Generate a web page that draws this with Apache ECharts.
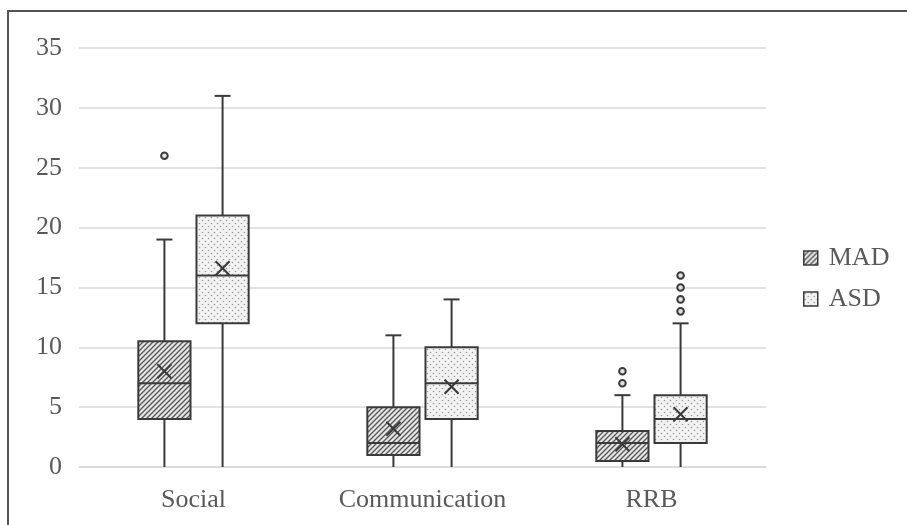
<!DOCTYPE html>
<html>
<head>
<meta charset="utf-8">
<script src="https://cdn.jsdelivr.net/npm/echarts@6/dist/echarts.min.js"></script>
<style>
  html, body { margin: 0; padding: 0; background: #fff; }
  #chart { width: 907px; height: 525px; }
</style>
</head>
<body>
<div id="chart"></div>
<script>
var categories = ['Social', 'Communication', 'RRB'];

// [min, q1, median, q3, max]
var madBox = [[0, 4, 7, 10.5, 19], [0, 1, 2, 5, 11], [0, 0.5, 2, 3, 6]];
var madMean = [8, 3.2, 1.9];
var madOutliers = [[0, 26], [2, 7], [2, 8]];

var asdBox = [[0, 12, 16, 21, 31], [0, 4, 7, 10, 14], [0, 2, 4, 6, 12]];
var asdMean = [16.6, 6.7, 4.4];
var asdOutliers = [[2, 13], [2, 14], [2, 15], [2, 16]];

var yTicks = [0, 35, 5];

var ink = '#3a3a3a';
var serif = 'Liberation Serif';

// fill patterns
function hatchPattern() {
    var c = document.createElement('canvas');
    c.width = 5; c.height = 5;
    var g = c.getContext('2d');
    g.fillStyle = '#e6e6e6';
    g.fillRect(0, 0, 5, 5);
    g.strokeStyle = '#5a5a5a';
    g.lineWidth = 1.4;
    g.beginPath();
    g.moveTo(-1, 6); g.lineTo(6, -1);
    g.moveTo(-1, 1); g.lineTo(1, -1);
    g.moveTo(4, 6); g.lineTo(6, 4);
    g.stroke();
    return {image: c, repeat: 'repeat'};
}

function dotPattern() {
    var c = document.createElement('canvas');
    c.width = 6; c.height = 6;
    var g = c.getContext('2d');
    g.fillStyle = '#f2f2f2';
    g.fillRect(0, 0, 6, 6);
    g.fillStyle = '#9a9a9a';
    g.beginPath();
    g.arc(1.5, 1.5, 0.8, 0, Math.PI * 2);
    g.arc(4.5, 4.5, 0.8, 0, Math.PI * 2);
    g.fill();
    return {image: c, repeat: 'repeat'};
}

var madFill = hatchPattern();
var asdFill = dotPattern();

function boxData(box, mean) {
    return box.map(function (b, i) {
        return [i].concat(b).concat([mean[i]]);
    });
}

function boxRenderer(shift, fill) {
    return function (params, api) {
        var i = api.value(0);
        var band = api.size([1, 0])[0];
        var cx = api.coord([i, 0])[0] + band * shift;
        var half = band * 0.114;
        var y = function (k) { return api.coord([i, api.value(k)])[1]; };
        var yMin = y(1), yQ1 = y(2), yMed = y(3), yQ3 = y(4), yMax = y(5), yMean = y(6);
        var line = {stroke: ink, lineWidth: 2};
        var m = 7;
        return {
            type: 'group',
            children: [
                {type: 'line', shape: {x1: cx, y1: yMin, x2: cx, y2: yQ1}, style: line},
                {type: 'line', shape: {x1: cx, y1: yQ3, x2: cx, y2: yMax}, style: line},
                {type: 'line', shape: {x1: cx - 8, y1: yMax, x2: cx + 8, y2: yMax}, style: line},
                {type: 'rect', shape: {x: cx - half, y: yQ3, width: half * 2, height: yQ1 - yQ3},
                    style: {fill: fill, stroke: ink, lineWidth: 2}},
                {type: 'line', shape: {x1: cx - half, y1: yMed, x2: cx + half, y2: yMed}, style: line},
                {type: 'line', shape: {x1: cx - m, y1: yMean - m, x2: cx + m, y2: yMean + m}, style: line},
                {type: 'line', shape: {x1: cx - m, y1: yMean + m, x2: cx + m, y2: yMean - m}, style: line}
            ]
        };
    };
}

function outlierRenderer(shift) {
    return function (params, api) {
        var i = api.value(0);
        var band = api.size([1, 0])[0];
        var p = api.coord([i, api.value(1)]);
        return {
            type: 'circle',
            shape: {cx: p[0] + band * shift, cy: p[1], r: 3.3},
            style: {fill: '#e0e0e0', stroke: ink, lineWidth: 2}
        };
    };
}

var chart = echarts.init(document.getElementById('chart'), null, {renderer: 'canvas'});

chart.setOption({
    animation: false,
    backgroundColor: '#fff',
    grid: {left: 79, right: 141, top: 48, bottom: 58},
    graphic: [{
        type: 'rect',
        shape: {x: 8, y: 11, width: 1000, height: 1000},
        style: {fill: 'none', stroke: '#555', lineWidth: 2},
        silent: true
    }],
    legend: {
        data: ['MAD', 'ASD'],
        orient: 'vertical',
        left: 798,
        top: 240,
        itemWidth: 14,
        itemHeight: 14,
        itemGap: 15,
        icon: 'rect',
        itemStyle: {borderColor: ink, borderWidth: 1.5},
        textStyle: {fontFamily: serif, fontSize: 26, color: '#595959', padding: [0, 0, 0, 6]}
    },
    xAxis: {
        type: 'category',
        data: categories,
        axisTick: {show: false},
        axisLine: {lineStyle: {color: '#d9d9d9', width: 1.5}},
        axisLabel: {fontFamily: serif, fontSize: 26, color: '#595959', margin: 20}
    },
    yAxis: {
        type: 'value',
        min: yTicks[0],
        max: yTicks[1],
        interval: yTicks[2],
        axisLine: {show: false},
        axisTick: {show: false},
        splitLine: {lineStyle: {color: '#d9d9d9', width: 1.5}},
        axisLabel: {fontFamily: serif, fontSize: 26, color: '#595959', margin: 17}
    },
    series: [
        {
            name: 'MAD',
            type: 'custom',
            renderItem: boxRenderer(-0.127, madFill),
            itemStyle: {color: madFill},
            encode: {x: 0, y: [1, 2, 3, 4, 5, 6]},
            data: boxData(madBox, madMean)
        },
        {
            name: 'ASD',
            type: 'custom',
            renderItem: boxRenderer(0.127, asdFill),
            itemStyle: {color: asdFill},
            encode: {x: 0, y: [1, 2, 3, 4, 5, 6]},
            data: boxData(asdBox, asdMean)
        },
        {
            name: 'MAD outliers',
            type: 'custom',
            renderItem: outlierRenderer(-0.127),
            encode: {x: 0, y: 1},
            data: madOutliers
        },
        {
            name: 'ASD outliers',
            type: 'custom',
            renderItem: outlierRenderer(0.127),
            encode: {x: 0, y: 1},
            data: asdOutliers
        }
    ]
});
</script>
</body>
</html>
